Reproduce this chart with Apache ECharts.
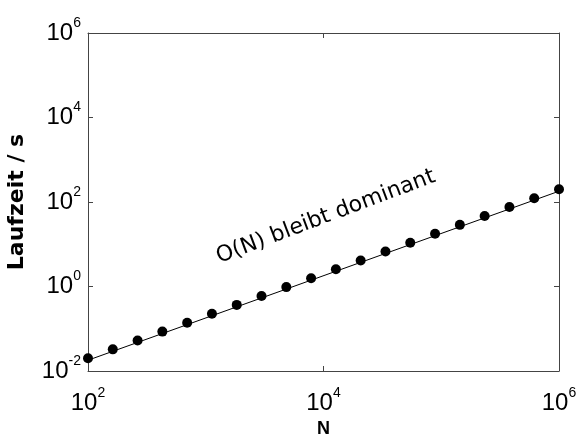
<!DOCTYPE html>
<html><head><meta charset="utf-8">
<script src="https://cdn.jsdelivr.net/npm/echarts@6/dist/echarts.min.js"></script>
<style>html,body{margin:0;padding:0;background:#fff}#c{width:576px;height:437px}</style>
</head><body><div id="c"></div>
<script>
const nValues = [100, 162.4, 263.7, 428.1, 695.2, 1128.8, 1832.9, 2976.4, 4832.9, 7847.6, 12743, 20691, 33598, 54556, 88587, 143845, 233572, 379269, 615848, 1000000];
const timeValues = [0.02, 0.0325, 0.0527, 0.0856, 0.139, 0.226, 0.367, 0.595, 0.967, 1.57, 2.55, 4.14, 6.72, 10.9, 17.7, 28.8, 46.7, 75.9, 123, 200];
const fitN = [100, 1000000];
const fitTime = [0.018, 180];
const annotation = 'O(N) bleibt dominant';
const xName = 'N';
const yName = 'Laufzeit / s';

const chart = echarts.init(document.getElementById('c'), null, {renderer: 'canvas'});
const rich = {
  b: {fontFamily: 'Liberation Sans, Arial', fontSize: 24, color: '#000', lineHeight: 34, verticalAlign: 'middle'},
  s: {fontFamily: 'Liberation Sans, Arial', fontSize: 14, color: '#000', verticalAlign: 'top', lineHeight: 14}
};
const fmt = v => '{b|10}{s|' + Math.round(Math.log10(v)) + '}';
const axisLine = {show: true, lineStyle: {color: '#444', width: 1}};
const tick = {show: true, inside: true, length: 5, lineStyle: {color: '#444', width: 1}};

chart.setOption({
  animation: false,
  backgroundColor: '#fff',
  grid: {left: 88, right: 17, top: 33, bottom: 66, containLabel: false, outerBoundsMode: 'none'},
  xAxis: [
    {type: 'log', logBase: 10, min: 100, max: 1000000, interval: 2, position: 'bottom',
     axisLine, axisTick: tick, splitLine: {show: false}, minorTick: {show: false},
     axisLabel: {formatter: fmt, rich, margin: 15},
     name: xName, nameLocation: 'middle', nameGap: 48,
     nameTextStyle: {fontFamily: 'Liberation Sans, Arial', fontWeight: 'bold', fontSize: 18, color: '#000'}},
    {type: 'log', logBase: 10, min: 100, max: 1000000, interval: 2, position: 'top',
     axisLine, axisTick: tick, splitLine: {show: false}, axisLabel: {show: false}}
  ],
  yAxis: [
    {type: 'log', logBase: 10, min: 0.01, max: 1000000, interval: 2, position: 'left',
     axisLine, axisTick: tick, splitLine: {show: false}, minorTick: {show: false},
     axisLabel: {formatter: fmt, rich, margin: 7},
     name: yName, nameLocation: 'middle', nameRotate: 90, nameGap: 60,
     nameTextStyle: {fontFamily: 'DejaVu Sans', fontWeight: 'bold', fontSize: 22, color: '#000'}},
    {type: 'log', logBase: 10, min: 0.01, max: 1000000, interval: 2, position: 'right',
     axisLine, axisTick: tick, splitLine: {show: false}, axisLabel: {show: false}}
  ],
  series: [
    {type: 'line', data: fitN.map((n, i) => [n, fitTime[i]]), showSymbol: false, symbol: 'none',
     lineStyle: {color: '#000', width: 1}, z: 2},
    {type: 'scatter', data: nValues.map((n, i) => [n, timeValues[i]]), symbol: 'circle', symbolSize: 10,
     itemStyle: {color: '#000', opacity: 1}, z: 3}
  ],
  graphic: [
    {type: 'text', x: 221, y: 268, rotation: 0.36,
     style: {text: annotation, x: 0, y: 0, textAlign: 'left', textVerticalAlign: 'bottom', verticalAlign: 'bottom',
             font: '22px "DejaVu Sans"', fill: '#000'}}
  ]
});
</script></body></html>
